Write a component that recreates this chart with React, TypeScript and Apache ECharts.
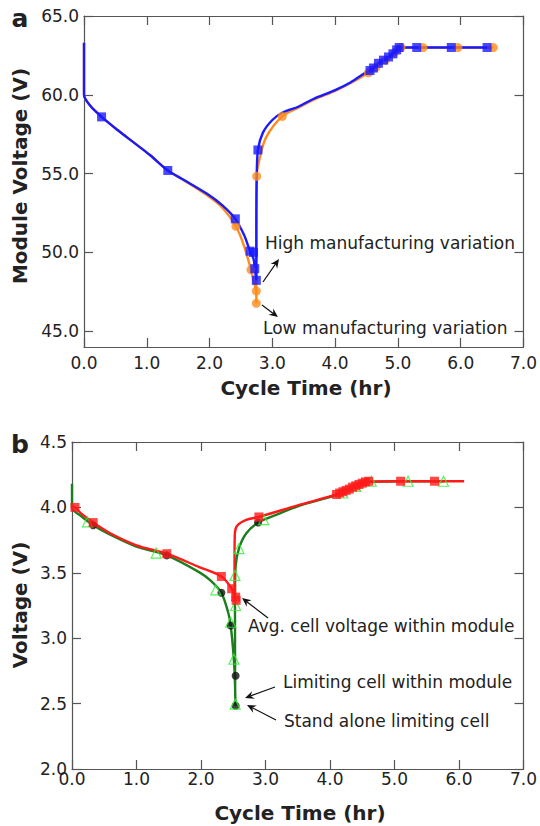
import React, { useEffect, useRef } from "react";
import * as echarts from "echarts";

// ---------- data ----------
const cycleTimeTicks = [0, 1, 2, 3, 4, 5, 6, 7];
const moduleVoltageTicks = [45, 50, 55, 60, 65];
const cellVoltageTicks = [2.0, 2.5, 3.0, 3.5, 4.0, 4.5];

// Panel a – high manufacturing variation (blue)
const highVarCurve: number[][] = [
  [0, 63.3], [0, 60.0], [0.1, 59.3], [0.28, 58.6], [0.54, 57.75], [0.8, 56.95], [1.05, 56.18],
  [1.335, 55.2], [1.6, 54.58], [1.96, 53.72], [2.2, 53.0], [2.41, 52.13], [2.55, 51.1],
  [2.645, 50.08], [2.7, 49.6], [2.72, 48.97], [2.745, 48.23], [2.745, 50.5], [2.75, 54.5],
  [2.77, 56.5], [2.85, 57.6], [3.0, 58.4], [3.157, 58.86], [3.42, 59.26], [3.66, 59.75],
  [4.0, 60.3], [4.25, 60.8], [4.48, 61.4], [4.556, 61.54], [4.61, 61.7], [4.69, 62.0],
  [4.77, 62.2], [4.85, 62.4], [4.92, 62.6], [4.98, 62.85], [5.02, 63.0], [5.3, 63.0],
  [5.85, 63.0], [6.42, 63.0],
];
const highVarMarkers: number[][] = [
  [0.28, 58.6], [1.335, 55.2], [2.41, 52.13], [2.645, 50.08], [2.7, 50.0], [2.72, 48.97],
  [2.745, 48.23], [2.77, 56.5], [4.556, 61.54], [4.61, 61.7], [4.69, 62.0], [4.77, 62.2],
  [4.85, 62.4], [4.92, 62.6], [4.98, 62.85], [5.02, 63.0], [5.3, 63.0], [5.85, 63.0], [6.42, 63.0],
];
// Panel a – low manufacturing variation (orange)
const lowVarCurve: number[][] = [
  [0, 63.3], [0, 60.0], [0.1, 59.3], [0.28, 58.6], [0.54, 57.75], [0.8, 56.95], [1.05, 56.18],
  [1.335, 55.2], [1.6, 54.55], [1.96, 53.62], [2.2, 52.85], [2.42, 51.66], [2.55, 50.4],
  [2.66, 48.9], [2.72, 47.9], [2.745, 47.55], [2.745, 46.77], [2.745, 50.5], [2.75, 54.83],
  [2.8, 56.0], [2.9, 57.3], [3.157, 58.63], [3.42, 59.2], [3.66, 59.7], [4.0, 60.25],
  [4.25, 60.75], [4.53, 61.4], [4.7, 61.9], [4.85, 62.3], [5.0, 62.8], [5.05, 63.0],
  [5.4, 63.0], [5.955, 63.0], [6.52, 63.0],
];
const lowVarMarkers: number[][] = [
  [2.42, 51.66], [2.66, 48.9], [2.745, 47.55], [2.745, 46.77], [2.75, 54.83], [3.157, 58.63],
  [4.53, 61.4], [4.65, 61.75], [4.8, 62.2], [4.95, 62.7], [5.05, 63.0], [5.4, 63.0],
  [5.955, 63.0], [6.52, 63.0],
];

// Panel b – average cell voltage within module (red)
const avgCellCurve: number[][] = [
  [0, 4.01], [0.046, 4.0], [0.15, 3.95], [0.328, 3.884], [0.6, 3.8], [1.0, 3.71], [1.47, 3.646],
  [1.97, 3.544], [2.316, 3.472], [2.476, 3.378], [2.52, 3.31], [2.52, 3.6], [2.525, 3.8],
  [2.56, 3.86], [2.7, 3.905], [2.897, 3.927], [3.51, 4.017], [4.1, 4.099], [4.3, 4.14],
  [4.45, 4.17], [4.565, 4.196], [5.095, 4.2], [5.62, 4.2], [6.08, 4.2],
];
const avgCellMarkers: number[][] = [
  [0.046, 4.0], [0.328, 3.884], [1.47, 3.646], [2.316, 3.472], [2.476, 3.378], [2.537, 3.314],
  [2.545, 3.29], [2.897, 3.927], [4.1, 4.099], [4.15, 4.11], [4.2, 4.12], [4.25, 4.13],
  [4.3, 4.14], [4.35, 4.155], [4.4, 4.165], [4.45, 4.175], [4.5, 4.185], [4.55, 4.195],
  [4.6, 4.2], [5.095, 4.2], [5.62, 4.2],
];
// Panel b – limiting cell within module (dark green line, black circles)
const limitingCellCurve: number[][] = [
  [0, 4.18], [0, 4.0], [0.15, 3.93], [0.328, 3.864], [0.6, 3.79], [1.0, 3.7], [1.47, 3.633],
  [1.97, 3.505], [2.15, 3.44], [2.316, 3.347], [2.42, 3.2], [2.46, 3.097], [2.5, 2.9],
  [2.52, 2.75], [2.53, 2.6], [2.535, 2.483], [2.53, 2.6], [2.527, 3.3], [2.537, 3.55],
  [2.588, 3.685], [2.7, 3.8], [2.885, 3.884], [3.2, 3.95], [3.51, 4.01], [4.1, 4.095],
  [4.565, 4.195], [5.1, 4.2], [5.77, 4.2],
];
const limitingCellMarkers: number[][] = [
  [0.328, 3.864], [1.47, 3.633], [2.316, 3.347], [2.46, 3.097], [2.537, 2.713],
  [2.537, 2.483], [2.885, 3.884],
];
// Panel b – stand alone limiting cell (open green triangles)
const standAloneMarkers: number[][] = [
  [0.24, 3.89], [1.305, 3.651], [2.23, 3.37], [2.46, 3.122], [2.51, 2.84], [2.53, 2.496],
  [2.537, 3.25], [2.527, 3.48], [2.588, 3.685], [2.97, 3.907], [4.2, 4.11], [4.4, 4.16],
  [4.64, 4.2], [5.21, 4.2], [5.76, 4.2],
];

// ---------- styling ----------
const FONT = "DejaVu Sans";
const AXIS_COLOR = "#555";
const TEXT_COLOR = "#222";
const BLUE = "#1a1aff";
const ORANGE = "#ff8c1a";
const RED = "#ff1a1a";
const DARK_GREEN = "#1e7d1e";
const LIME = "#33ee33";

function arrow(x1: number, y1: number, x2: number, y2: number) {
  const dx = x2 - x1;
  const dy = y2 - y1;
  const len = Math.sqrt(dx * dx + dy * dy);
  const ux = dx / len;
  const uy = dy / len;
  const nx = -uy;
  const ny = ux;
  const L = 9;
  const W = 4;
  const bx = x2 - ux * L;
  const by = y2 - uy * L;
  const notchX = x2 - ux * 6;
  const notchY = y2 - uy * 6;
  return [
    {
      type: "line",
      shape: { x1, y1, x2: notchX, y2: notchY },
      style: { stroke: "#111", lineWidth: 1.2 },
    },
    {
      type: "polygon",
      shape: {
        points: [
          [x2, y2],
          [bx + nx * W, by + ny * W],
          [notchX, notchY],
          [bx - nx * W, by - ny * W],
        ],
      },
      style: { fill: "#111" },
    },
  ];
}

function txt(x: number, y: number, text: string, size: number, weight: string, align = "left", rotation = 0) {
  return {
    type: "text",
    x,
    y,
    rotation,
    style: {
      text,
      fill: TEXT_COLOR,
      font: `${weight} ${size}px "${FONT}"`,
      align,
      verticalAlign: "middle",
    },
  };
}

function xAxes(gridIndex: number, labelMargin: number) {
  const base = {
    type: "value",
    gridIndex,
    min: cycleTimeTicks[0],
    max: cycleTimeTicks[cycleTimeTicks.length - 1],
    interval: 1,
    splitLine: { show: false },
    axisLine: { show: true, onZero: false, lineStyle: { color: AXIS_COLOR, width: 1.2 } },
    axisTick: { show: true, inside: true, length: 9, lineStyle: { color: AXIS_COLOR, width: 1.2 } },
  };
  return [
    {
      ...base,
      position: "bottom",
      axisLabel: {
        show: true,
        formatter: (v: number) => v.toFixed(1),
        color: TEXT_COLOR,
        fontSize: 17,
        fontFamily: FONT,
        margin: labelMargin,
      },
    },
    { ...base, position: "top", axisLabel: { show: false } },
  ];
}

function yAxes(gridIndex: number, min: number, max: number, ticks: number[]) {
  const base = {
    type: "value",
    gridIndex,
    min,
    max,
    splitLine: { show: false },
    axisLine: { show: true, onZero: false, lineStyle: { color: AXIS_COLOR, width: 1.2 } },
    axisTick: {
      show: true,
      inside: true,
      length: 9,
      customValues: ticks,
      lineStyle: { color: AXIS_COLOR, width: 1.2 },
    },
  };
  return [
    {
      ...base,
      position: "left",
      axisLabel: {
        show: true,
        customValues: ticks,
        formatter: (v: number) => v.toFixed(1),
        color: TEXT_COLOR,
        fontSize: 17,
        fontFamily: FONT,
        margin: 5,
      },
    },
    { ...base, position: "right", axisLabel: { show: false } },
  ];
}

function lineSeries(xi: number, yi: number, data: number[][], color: string, width = 2.4) {
  return {
    type: "line",
    xAxisIndex: xi,
    yAxisIndex: yi,
    data,
    showSymbol: false,
    symbol: "none",
    smooth: 0.3,
    lineStyle: { color, width },
    z: 2,
  };
}

function scatterSeries(xi: number, yi: number, data: number[][], symbol: string, size: number, itemStyle: any) {
  return {
    type: "scatter",
    xAxisIndex: xi,
    yAxisIndex: yi,
    data,
    symbol,
    symbolSize: size,
    itemStyle,
    z: 3,
  };
}

export default function App() {
  const ref = useRef<HTMLDivElement>(null);

  useEffect(() => {
    if (!ref.current) return;
    const chart = echarts.init(ref.current, undefined, { renderer: "svg" });
    const option: any = {
      animation: false,
      backgroundColor: "#ffffff",
      grid: [
        { left: 84, top: 16, width: 442, height: 331 },
        { left: 72, top: 442, width: 454, height: 327 },
      ],
      xAxis: [...xAxes(0, 7), ...xAxes(1, 1)],
      yAxis: [...yAxes(0, 44, 65, moduleVoltageTicks), ...yAxes(1, 2.0, 4.5, cellVoltageTicks)],
      series: [
        lineSeries(0, 0, lowVarCurve, ORANGE),
        scatterSeries(0, 0, lowVarMarkers, "circle", 9, { color: ORANGE }),
        lineSeries(0, 0, highVarCurve, BLUE),
        scatterSeries(0, 0, highVarMarkers, "rect", 9, { color: BLUE }),

        lineSeries(2, 2, limitingCellCurve, DARK_GREEN),
        scatterSeries(2, 2, limitingCellMarkers, "circle", 8, { color: "#111" }),
        scatterSeries(2, 2, standAloneMarkers, "triangle", 10, {
          color: "rgba(0,0,0,0)",
          borderColor: LIME,
          borderWidth: 1.2,
        }),
        lineSeries(2, 2, avgCellCurve, RED),
        scatterSeries(2, 2, avgCellMarkers, "rect", 9, { color: RED }),
      ],
      graphic: [
        txt(20, 18, "a", 25, "bold", "center"),
        txt(20, 444, "b", 25, "bold", "center"),
        txt(20, 176, "Module Voltage (V)", 20, "bold", "center", Math.PI / 2),
        txt(20, 605, "Voltage (V)", 20, "bold", "center", Math.PI / 2),
        txt(306, 388, "Cycle Time (hr)", 20, "bold", "center"),
        txt(300, 813, "Cycle Time (hr)", 20, "bold", "center"),
        txt(265, 243, "High manufacturing variation", 17, "normal"),
        txt(263, 328, "Low manufacturing variation", 17, "normal"),
        txt(248, 626, "Avg. cell voltage within module", 17, "normal"),
        txt(283, 682, "Limiting cell within module", 17, "normal"),
        txt(284, 721, "Stand alone limiting cell", 17, "normal"),
        ...arrow(263, 282, 279, 259),
        ...arrow(262, 305, 278, 317),
        ...arrow(268, 618, 242, 598),
        ...arrow(275, 687, 245, 698),
        ...arrow(276, 720, 247, 705),
      ],
    };
    chart.setOption(option);
    return () => chart.dispose();
  }, []);

  return (
    <div
      ref={ref}
      style={{ position: "absolute", left: 0, top: 0, width: 540, height: 826, background: "#fff" }}
    />
  );
}
